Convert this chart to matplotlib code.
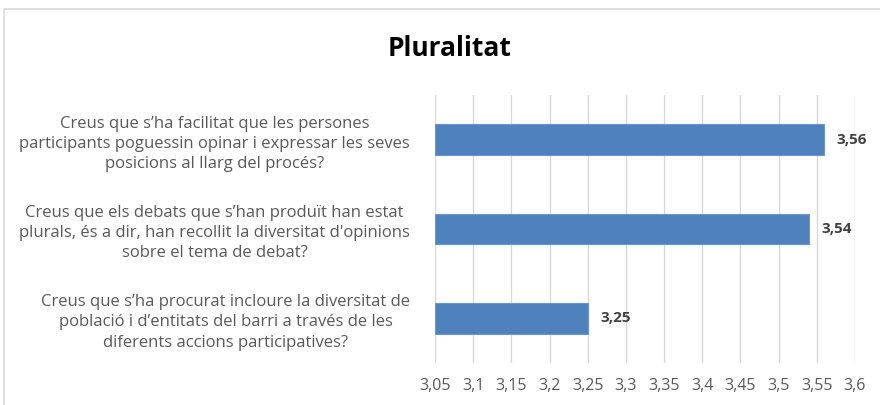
import matplotlib
matplotlib.use("Agg")
import matplotlib.pyplot as plt
from matplotlib.patches import Rectangle

categories = [
    "Creus que s\u2019ha facilitat que les persones\nparticipants poguessin opinar i expressar les seves\nposicions al llarg del procés?",
    "Creus que els debats que s\u2019han produït han estat\nplurals, és a dir, han recollit la diversitat d'opinions\nsobre el tema de debat?",
    "Creus que s\u2019ha procurat incloure la diversitat de\npoblació i d\u2019entitats del barri a través de les\ndiferents accions participatives?",
]
values = [3.56, 3.54, 3.25]
xticks = [3.05, 3.1, 3.15, 3.2, 3.25, 3.3, 3.35, 3.4, 3.45, 3.5, 3.55, 3.6]
title = "Pluralitat"

plt.rcParams['font.family'] = ['Open Sans', 'DejaVu Sans']

fig = plt.figure(figsize=(8.8, 4.05), dpi=100)
fig.patches.append(Rectangle((4/880, -0.1), 1.2, (405-9)/405 + 0.1, transform=fig.transFigure,
                             fill=False, edgecolor='#d9d9d9', lw=1.2, zorder=0))
ax = fig.add_axes([435/880, (405-363)/405, 420/880, 268/405])

ypos = list(range(len(values)))
base = xticks[0]
ax.barh(ypos, [v - base for v in values], left=base, height=0.34,
        color='#4F81BD', edgecolor='#6a96cc', lw=0.8, zorder=3)
for y, v in zip(ypos, values):
    ax.text(v + 0.016, y, f"{v:.2f}".replace('.', ','), va='center', ha='left',
            fontsize=11, fontweight='bold', color='#404040')

ax.set_xlim(xticks[0], xticks[-1])
ax.set_ylim(2.5, -0.5)
ax.set_xticks(xticks)
ax.set_xticklabels([f"{t:g}".replace('.', ',') for t in xticks], fontsize=11.5, color='#595959')
ax.set_yticks(ypos)
ax.set_yticklabels(categories, fontsize=12, color='#595959', multialignment='center',
                   linespacing=1.35)
ax.tick_params(axis='both', length=0)
ax.tick_params(axis='y', pad=18)
ax.tick_params(axis='x', pad=11)
ax.grid(axis='x', color='#d9d9d9', lw=1, zorder=0)
for s in ax.spines.values():
    s.set_visible(False)

fig.text(450/880, 1 - 48/405, title, ha='center', va='center', fontsize=19, fontweight='bold', color='black')

fig.savefig("out.png", dpi=100)
